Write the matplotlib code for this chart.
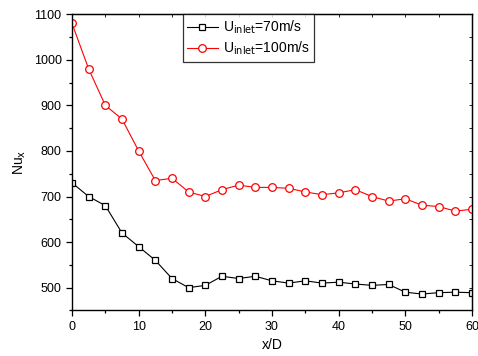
import matplotlib
matplotlib.use("Agg")
import matplotlib.pyplot as plt
from matplotlib.ticker import MultipleLocator

plt.rcParams['font.family'] = ['Liberation Sans', 'DejaVu Sans']

# x/D positions
x_d = [0, 2.5, 5, 7.5, 10, 12.5, 15, 17.5, 20, 22.5, 25, 27.5, 30,
       32.5, 35, 37.5, 40, 42.5, 45, 47.5, 50, 52.5, 55, 57.5, 60]

# Nu_x for U_inlet = 70 m/s
nu_70 = [730, 700, 680, 620, 590, 560, 520, 500, 505, 525, 520, 525, 515,
         510, 515, 510, 512, 508, 505, 507, 490, 486, 489, 490, 489]

# Nu_x for U_inlet = 100 m/s
nu_100 = [1080, 980, 900, 870, 800, 735, 740, 710, 700, 715, 725, 720, 720,
          718, 710, 704, 708, 715, 700, 690, 695, 681, 678, 668, 672]

labels = ["U$_{\\mathrm{inlet}}$=70m/s", "U$_{\\mathrm{inlet}}$=100m/s"]

fig = plt.figure(figsize=(4.78, 3.56), dpi=100)
ax = fig.add_axes([0.1506, 0.128, 0.8368, 0.832])

ax.plot(x_d, nu_70, "-s", color="black", linewidth=0.8,
        markersize=4.8, markerfacecolor="white", markeredgecolor="black",
        markeredgewidth=0.9, label=labels[0])
ax.plot(x_d, nu_100, "-o", color="red", linewidth=0.8,
        markersize=5.5, markerfacecolor="white", markeredgecolor="red",
        markeredgewidth=0.9, label=labels[1])

ax.set_xlim(0, 60)
ax.set_ylim(450, 1100)
ax.xaxis.set_major_locator(MultipleLocator(10))
ax.xaxis.set_minor_locator(MultipleLocator(5))
ax.yaxis.set_major_locator(MultipleLocator(100))
ax.yaxis.set_minor_locator(MultipleLocator(50))

ax.tick_params(which="both", direction="out", labelsize=9, width=0.9)
ax.tick_params(which="major", length=4)
ax.tick_params(which="minor", length=2.5)
for sp in ax.spines.values():
    sp.set_linewidth(1.0)

# mirrored inner ticks on top/right
top = ax.secondary_xaxis("top")
top.xaxis.set_major_locator(MultipleLocator(10))
top.xaxis.set_minor_locator(MultipleLocator(5))
top.tick_params(which="both", direction="in", labeltop=False, length=2, width=0.6)
right = ax.secondary_yaxis("right")
right.yaxis.set_major_locator(MultipleLocator(100))
right.yaxis.set_minor_locator(MultipleLocator(50))
right.tick_params(which="both", direction="in", labelright=False, length=2, width=0.6)

ax.set_xlabel("x/D", fontsize=10)
ax.set_ylabel("Nu$_\\mathrm{x}$", fontsize=10)

leg = ax.legend(loc="upper left", bbox_to_anchor=(0.2775, 1.0), fontsize=10,
                frameon=True, fancybox=False, edgecolor="black",
                handlelength=2.2, borderpad=0.3, labelspacing=0.3,
                handletextpad=0.4, borderaxespad=0.0)
leg.get_frame().set_linewidth(0.9)

fig.savefig("out.png", dpi=100)
